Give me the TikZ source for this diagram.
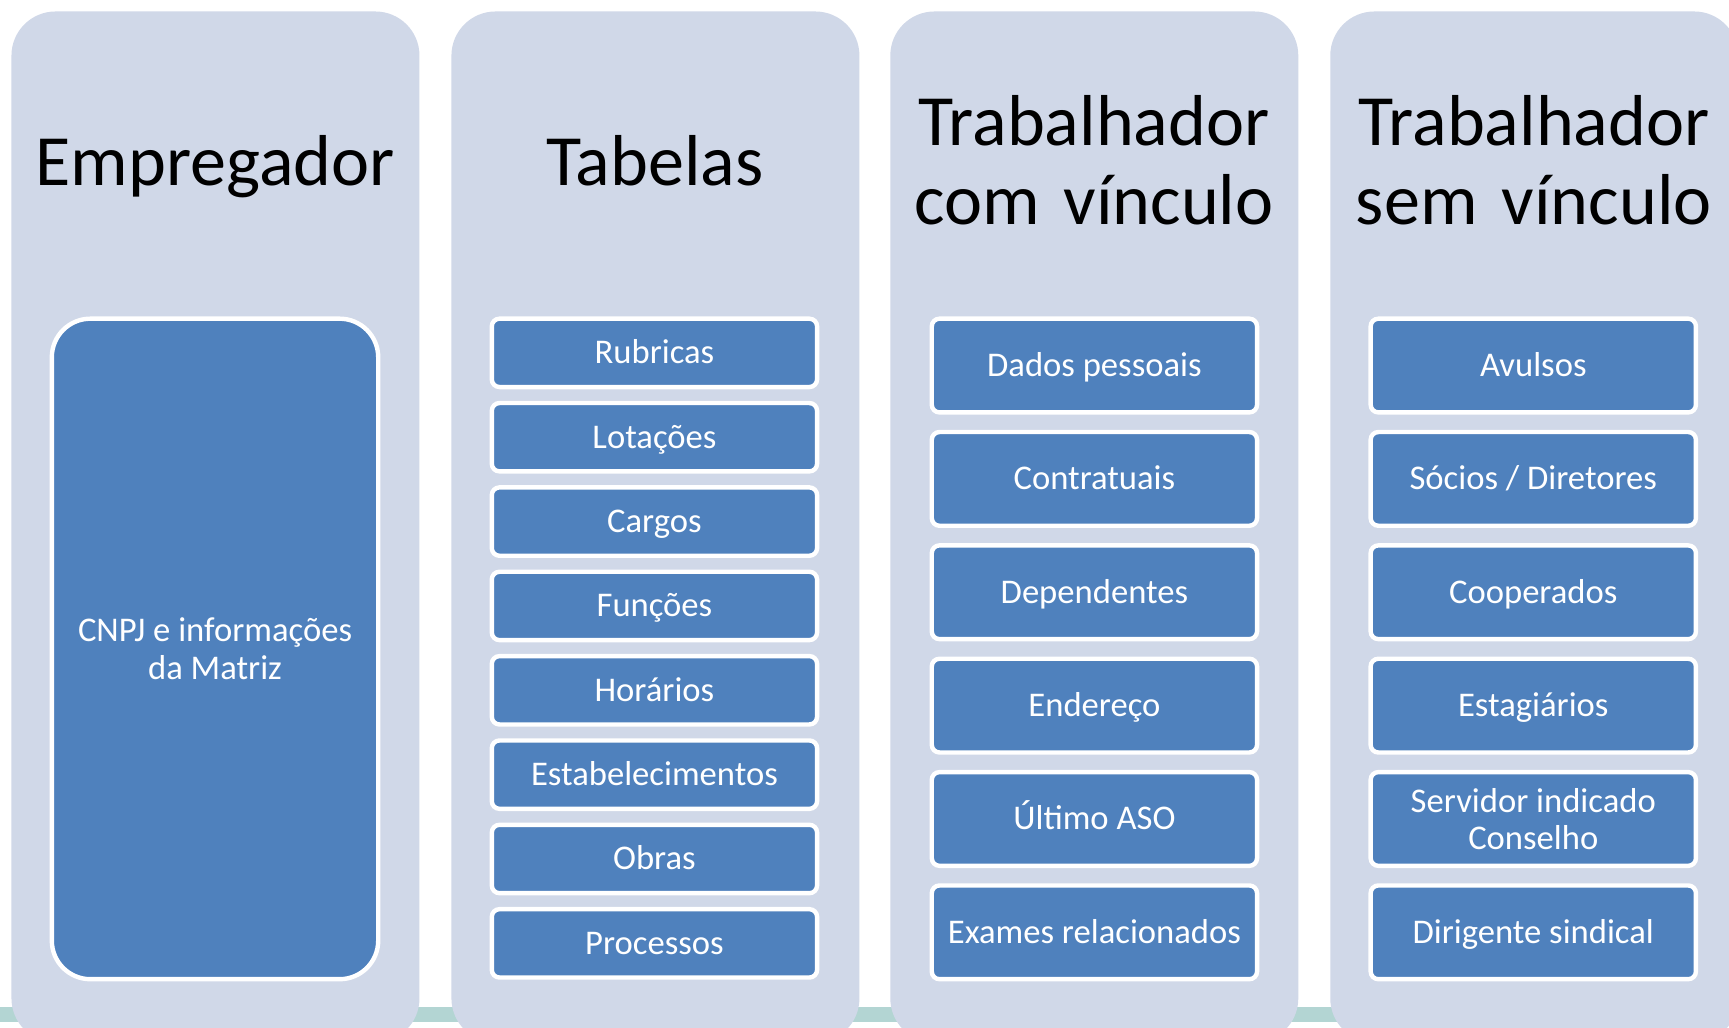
\documentclass[tikz,border=0pt]{standalone}
\usepackage{fontspec}
\setmainfont{Carlito}
\definecolor{panelbg}{HTML}{D0D8E8}
\definecolor{boxblue}{HTML}{4F81BD}
\definecolor{bandteal}{HTML}{B3D5D3}
\begin{document}
\begin{tikzpicture}[x=0.5pt,y=-0.5pt,
  panel/.style={fill=panelbg, rounded corners=20pt, minimum width=185pt, minimum height=467.5pt, anchor=north west, inner sep=0pt},
  title/.style={font=\fontsize{32.7}{36}\selectfont, text=black, text width=185pt, align=center, anchor=base, inner sep=0pt},
  item/.style={fill=boxblue, draw=white, line width=2pt, rounded corners=3.5pt, text=white, font=\fontsize{15.7}{17}\selectfont, inner sep=0pt, align=center},
  oneline/.style={text height=0.63em+3.5pt, text depth=0pt},
  tabitem/.style={item, minimum width=147.5pt, minimum height=31pt},
  wkitem/.style={item, minimum width=147.5pt, minimum height=42.5pt},
]
\useasboundingbox (0,0) rectangle (1568,932);
\fill[white] (0,0) rectangle (1568,932);
\clip (0,0) rectangle (1568,932);
\fill[bandteal] (0,913) rectangle (1568,927);
% panels
\node[panel] (p1) at (10,10) {};
\node[panel] (p2) at (409,10) {};
\node[panel] (p3) at (807,10) {};
\node[panel] (p4) at (1206,10) {};
% titles
\node[title] (t1) at (195,168) {Empregador};
\node[title] (t2) at (594,168) {Tabelas};
\node[title] (t3) at (992,132) {Trabalhador\\com vínculo};
\node[title] (t4) at (1391,132) {Trabalhador\\sem vínculo};
% Empregador
\node[item, rounded corners=17.5pt, minimum width=148pt, minimum height=299.5pt] (emp) at (195,588.5) {CNPJ e informações\\da Matriz};
% Tabelas
\node[tabitem, oneline] (b1) at (593.5,320) {Rubricas};
\node[tabitem, oneline] (b2) at (593.5,396.5) {Lotações};
\node[tabitem, oneline] (b3) at (593.5,473) {Cargos};
\node[tabitem, oneline] (b4) at (593.5,549.5) {Funções};
\node[tabitem, oneline] (b5) at (593.5,626) {Horários};
\node[tabitem, oneline] (b6) at (593.5,702.5) {Estabelecimentos};
\node[tabitem, oneline] (b7) at (593.5,779) {Obras};
\node[tabitem, oneline] (b8) at (593.5,855.5) {Processos};
% Trabalhador com vinculo
\node[wkitem, oneline] (c1) at (992.5,331.5) {Dados pessoais};
\node[wkitem, oneline] (c2) at (992.5,434.3) {Contratuais};
\node[wkitem, oneline] (c3) at (992.5,537.1) {Dependentes};
\node[wkitem, oneline] (c4) at (992.5,639.9) {Endereço};
\node[wkitem, oneline] (c5) at (992.5,742.7) {Último ASO};
\node[wkitem, oneline] (c6) at (992.5,845.5) {Exames relacionados};
% Trabalhador sem vinculo
\node[wkitem, oneline] (s1) at (1390.5,331.5) {Avulsos};
\node[wkitem, oneline] (s2) at (1390.5,434.3) {Sócios / Diretores};
\node[wkitem, oneline] (s3) at (1390.5,537.1) {Cooperados};
\node[wkitem, oneline] (s4) at (1390.5,639.9) {Estagiários};
\node[wkitem] (s5) at (1390.5,742.7) {Servidor indicado\\Conselho};
\node[wkitem, oneline] (s6) at (1390.5,845.5) {Dirigente sindical};
\end{tikzpicture}
\end{document}
